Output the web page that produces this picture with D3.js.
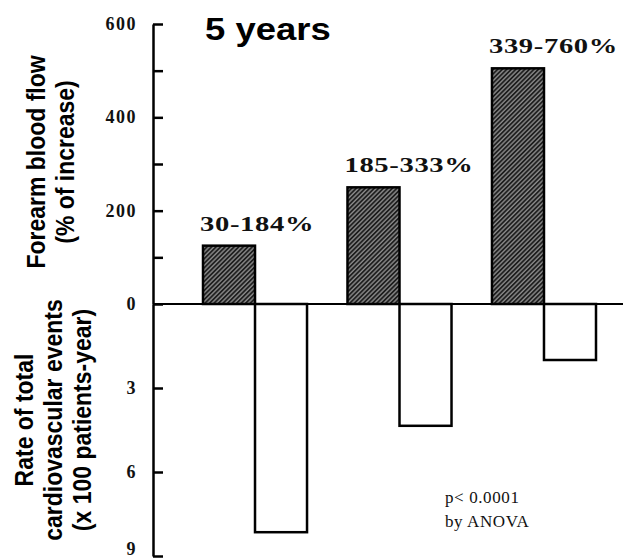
<!DOCTYPE html>
<html lang="en">
<head>
  <meta charset="UTF-8">
  <script src="https://d3js.org/d3.v7.min.js"></script>
  <style>
    body { margin: 0; background: #fff; }
    text.tick-label { font-family: "Liberation Serif", serif; font-weight: bold; font-size: 18px; letter-spacing: 1.5px; }
  </style>
</head>
<body>
  <svg id="chart" width="633" height="558"></svg>
  <script>
    var groups = ['g1', 'g2', 'g3'];
    var flowValues = [125, 250, 505];
    var eventRates = [8.15, 4.35, 2.0];
    var rangeLabels = ['30-184%', '185-333%', '339-760%'];
    var flowTicks = [0, 100, 200, 300, 400, 500, 600];
    var flowLabelTicks = [0, 200, 400, 600];
    var eventTicks = [3, 6, 9];

    var svg = d3.select('#chart');
    var axisX = 153;

    var yTop = d3.scaleLinear().domain([0, 600]).range([304, 24]);
    var yBot = d3.scaleLinear().domain([0, 9]).range([304, 556]);
    var x = d3.scaleBand().domain(groups).range([203, 596]).paddingInner(0.28).paddingOuter(0);
    var xs = d3.scaleBand().domain(['flow', 'events']).range([0, x.bandwidth()]);

    // hatch for the flow bars
    var pat = svg.append('defs').append('pattern')
      .attr('id', 'hatch').attr('patternUnits', 'userSpaceOnUse')
      .attr('width', 3.2).attr('height', 3.2)
      .attr('patternTransform', 'rotate(45)');
    pat.append('rect').attr('width', 3.2).attr('height', 3.2).attr('fill', '#8c8c8c');
    pat.append('line').attr('x1', 1).attr('x2', 1).attr('y1', 0).attr('y2', 3.2)
      .attr('stroke', '#151515').attr('stroke-width', 1.7);

    // bars
    svg.selectAll('rect.flow').data(groups).enter().append('rect')
      .attr('class', 'flow')
      .attr('x', (d, i) => x(d) + xs('flow'))
      .attr('y', (d, i) => yTop(flowValues[i]))
      .attr('width', xs.bandwidth())
      .attr('height', (d, i) => yTop(0) - yTop(flowValues[i]))
      .attr('fill', 'url(#hatch)').attr('stroke', '#000').attr('stroke-width', 2.5);

    svg.selectAll('rect.events').data(groups).enter().append('rect')
      .attr('class', 'events')
      .attr('x', (d, i) => x(d) + xs('events'))
      .attr('y', yBot(0))
      .attr('width', xs.bandwidth())
      .attr('height', (d, i) => yBot(eventRates[i]) - yBot(0))
      .attr('fill', '#fff').attr('stroke', '#000').attr('stroke-width', 2.5);

    // zero line
    svg.append('line')
      .attr('x1', axisX).attr('x2', 623).attr('y1', yTop(0)).attr('y2', yTop(0))
      .attr('stroke', '#000').attr('stroke-width', 2.2);

    // axes (ticks only, labels drawn below)
    var gTop = svg.append('g').attr('transform', 'translate(' + axisX + ',0)')
      .call(d3.axisLeft(yTop).tickValues(flowTicks).tickSizeInner(-10).tickSizeOuter(0).tickFormat(''));
    var gBot = svg.append('g').attr('transform', 'translate(' + axisX + ',0)')
      .call(d3.axisLeft(yBot).tickValues(eventTicks).tickSizeInner(-10).tickSizeOuter(0).tickFormat(''));
    [gTop, gBot].forEach(g => {
      g.selectAll('path, line').attr('stroke', '#000').attr('stroke-width', 2.5);
    });

    svg.selectAll('text.top-lab').data(flowLabelTicks).enter().append('text')
      .attr('class', 'tick-label top-lab')
      .attr('x', axisX - 16).attr('y', d => yTop(d)).attr('dy', '0.34em')
      .attr('text-anchor', 'end').attr('fill', '#111')
      .text(d => d);
    svg.selectAll('text.bot-lab').data(eventTicks).enter().append('text')
      .attr('class', 'tick-label bot-lab')
      .attr('x', axisX - 16).attr('y', d => Math.min(yBot(d), 549)).attr('dy', '0.34em')
      .attr('text-anchor', 'end').attr('fill', '#111')
      .text(d => d);

    // range labels
    svg.selectAll('text.range').data(groups).enter().append('text')
      .attr('class', 'range')
      .attr('transform', (d, i) => 'translate(' + (x(d) - 3) + ',' + (yTop(flowValues[i]) - 15) + ') scale(1.3,1)')
      .style('font-family', '"Liberation Serif", serif').style('font-weight', 'bold')
      .style('font-size', '22px').style('letter-spacing', '0.5px')
      .attr('fill', '#111')
      .text((d, i) => rangeLabels[i]);

    // title
    svg.append('text')
      .attr('transform', 'translate(205,40) scale(1.14,1)')
      .style('font-family', '"Liberation Sans", Arial, sans-serif').style('font-weight', 'bold')
      .style('font-size', '32px').attr('fill', '#000')
      .text('5 years');

    // rotated axis titles
    function vlabel(lines, cx, cy, gap) {
      var g = svg.append('g');
      lines.forEach((t, i) => {
        g.append('text')
          .attr('transform', 'translate(' + (cx + i * gap) + ',' + cy + ') rotate(-90) scale(1,1.15)')
          .attr('text-anchor', 'middle')
          .style('font-family', '"Liberation Sans", Arial, sans-serif').style('font-weight', 'bold')
          .style('font-size', '23px').attr('fill', '#000')
          .text(t);
      });
    }
    vlabel(['Forearm blood flow', '(% of increase)'], 45, 162, 29);
    vlabel(['Rate of total', 'cardiovascular events', '(x 100 patients-year)'], 33, 420, 29);

    // note
    var note = svg.append('text')
      .style('font-family', '"Liberation Serif", serif').style('font-size', '17px')
      .style('letter-spacing', '0.6px').attr('fill', '#111');
    note.append('tspan').attr('x', 445).attr('y', 503).text('p< 0.0001');
    note.append('tspan').attr('x', 445).attr('y', 527).text('by ANOVA');
  </script>
</body>
</html>
